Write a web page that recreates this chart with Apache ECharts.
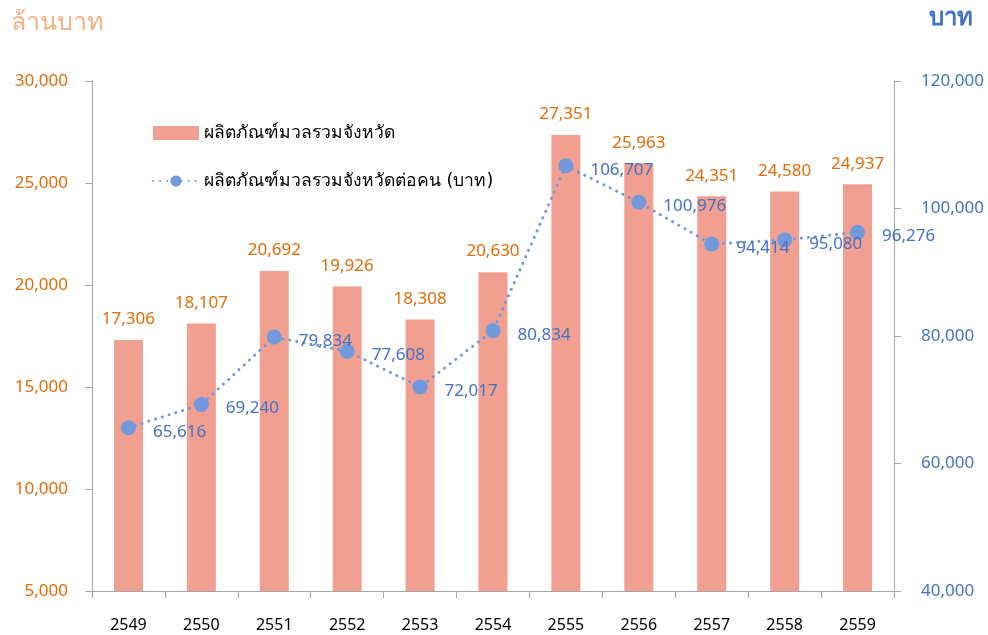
<!DOCTYPE html>
<html>
<head>
<meta charset="utf-8">
<script src="https://cdn.jsdelivr.net/npm/echarts@6/dist/echarts.min.js"></script>
<style>
  html, body { margin: 0; padding: 0; background: #fff; }
  #chart { width: 988px; height: 635px; }
</style>
</head>
<body>
<div id="chart"></div>
<script>
// ปี พ.ศ.
var years = ["2549", "2550", "2551", "2552", "2553", "2554", "2555", "2556", "2557", "2558", "2559"];
// ผลิตภัณฑ์มวลรวมจังหวัด (ล้านบาท)
var gppValues = [17306, 18107, 20692, 19926, 18308, 20630, 27351, 25963, 24351, 24580, 24937];
// ผลิตภัณฑ์มวลรวมจังหวัดต่อคน (บาท)
var perCapitaValues = [65616, 69240, 79834, 77608, 72017, 80834, 106707, 100976, 94414, 95080, 96276];
var leftTicks = [5000, 10000, 15000, 20000, 25000, 30000];
var rightTicks = [40000, 60000, 80000, 100000, 120000];

var font = "DejaVu Sans, Tahoma, sans-serif";
var numFont = "Noto Sans, sans-serif";
var orange = "#e46c0a";
var blue = "#4472c4";

var chart = echarts.init(document.getElementById("chart"));
window.addEventListener("resize", chart.resize);

function fmt(v) {
    return String(v).replace(/\B(?=(\d{3})+(?!\d))/g, ",");
}

var option = {
    animation: false,
    textStyle: { fontFamily: font },
    grid: { left: 92, right: 94, top: 81, bottom: 44 },
    graphic: [{
        type: "text", left: 11, top: 11,
        style: { text: "ล้านบาท", fill: "#f4b183", fontSize: 25, fontFamily: font }
    }, {
        type: "text", left: 929, top: 7,
        style: { text: "บาท", fill: blue, fontSize: 24, fontWeight: "bold", fontFamily: font }
    }],
    legend: {
        orient: "vertical",
        left: 147, top: 119,
        itemWidth: 46, itemHeight: 14, itemGap: 30,
        textStyle: { fontSize: 17.5, color: "#000", fontFamily: font },
        data: [
            { name: "ผลิตภัณฑ์มวลรวมจังหวัด", icon: "rect" },
            { name: "ผลิตภัณฑ์มวลรวมจังหวัดต่อคน (บาท)" }
        ]
    },
    xAxis: {
        type: "category",
        data: years,
        axisLine: { lineStyle: { color: "#a6a6a6" } },
        axisTick: { show: true, length: 7, lineStyle: { color: "#a6a6a6" } },
        axisLabel: { color: "#000", fontSize: 16, fontFamily: numFont, margin: 26 }
    },
    yAxis: [{
        type: "value",
        min: leftTicks[0], max: leftTicks[leftTicks.length - 1], interval: 5000,
        splitLine: { show: false },
        axisLine: { show: true, lineStyle: { color: "#a6a6a6" } },
        axisTick: { show: true, length: 7, lineStyle: { color: "#a6a6a6" } },
        axisLabel: { color: orange, fontSize: 17, fontFamily: numFont, margin: 24, formatter: fmt }
    }, {
        type: "value",
        min: rightTicks[0], max: rightTicks[rightTicks.length - 1], interval: 20000,
        splitLine: { show: false },
        axisLine: { show: true, lineStyle: { color: "#a6a6a6" } },
        axisTick: { show: true, length: 7, lineStyle: { color: "#a6a6a6" } },
        axisLabel: { color: blue, fontSize: 17, fontFamily: numFont, margin: 27, formatter: fmt }
    }],
    series: [{
        name: "ผลิตภัณฑ์มวลรวมจังหวัด",
        type: "bar",
        data: gppValues,
        barWidth: 29,
        itemStyle: { color: "#f19f90" },
        label: {
            show: true, position: "top", distance: 12,
            color: orange, fontSize: 17, fontFamily: numFont,
            formatter: function (p) { return fmt(p.value); }
        }
    }, {
        name: "ผลิตภัณฑ์มวลรวมจังหวัดต่อคน (บาท)",
        type: "line",
        yAxisIndex: 1,
        data: perCapitaValues,
        symbol: "circle",
        symbolSize: 15,
        itemStyle: { color: "#7399dd" },
        lineStyle: { color: "#7399dd", width: 3, type: [0.1, 7], cap: "round" },
        label: {
            show: true, position: "right", distance: 17, offset: [0, 4],
            color: blue, fontSize: 17, fontFamily: numFont,
            formatter: function (p) { return fmt(p.value); }
        }
    }]
};
chart.setOption(option);
</script>
</body>
</html>
